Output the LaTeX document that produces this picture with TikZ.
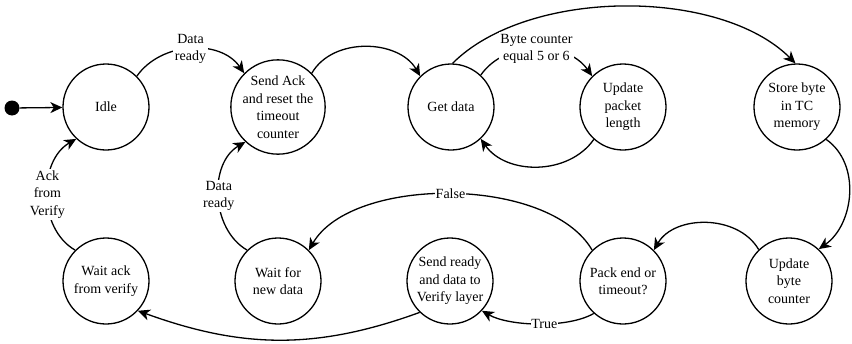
\documentclass[tikz,border=0pt]{standalone}
\usepackage{fontspec}
\setmainfont{Liberation Serif}
\usetikzlibrary{arrows.meta}
\begin{document}
\begin{tikzpicture}[x=1pt,y=1pt,
  txt/.style={font=\fontsize{14}{17.5}\selectfont},
  state/.style={txt,circle,draw,line width=1.3pt,minimum size=86pt,inner sep=0pt,align=center},
  trans/.style={line width=1.3pt,-{Stealth[length=12pt,width=11pt,inset=3.5pt]}},
  lbl/.style={txt,fill=white,inner sep=1.5pt,align=center}]
\useasboundingbox (0,0) rectangle (852,-343);

% states, top row
\node[state] (idle)  at (106,-107) {Idle};
\node[state] (ack)   at (278,-107) {Send Ack\\and reset the\\timeout\\counter};
\node[state] (get)   at (451,-107) {Get data};
\node[state] (upd)   at (623,-107) {Update\\packet\\length};
\node[state] (store) at (797,-107) {Store byte\\in TC\\memory};

% states, bottom row
\node[state] (waitack) at (106,-281) {Wait ack\\from verify};
\node[state] (waitnew) at (278,-281) {Wait for\\new data};
\node[state] (sendrdy) at (450,-281) {Send ready\\and data to\\Verify layer};
\node[state] (pack)    at (623,-281) {Pack end or\\timeout?};
\node[state] (updbyte) at (789,-281) {Update\\byte\\counter};

% initial pseudo-state
\node[circle,fill,inner sep=0pt,minimum size=15pt] (init) at (12,-108) {};

% transitions
\draw[trans] (init) -- (idle);
\draw[trans] (idle.45) to[out=55,in=125] node[lbl,midway] {Data\\ready} (ack.135);
\draw[trans] (ack.45) to[out=60,in=120] (get.135);
\draw[trans] (get.88) to[out=45,in=135,looseness=0.8] (store.92);
\draw[trans] (get.47) to[out=55,in=125] node[lbl,midway] {Byte counter\\equal 5 or 6} (upd.135);
\draw[trans] (upd.228) to[out=235,in=305] (get.313);
\draw[trans] (store.312) to[out=-35,in=35] (updbyte.47);
\draw[trans] (updbyte.134) to[out=120,in=60] (pack.45);
\draw[trans] (pack.135) to[out=120,in=60,looseness=0.78] node[lbl,midway,inner sep=0.5pt] {False} (waitnew.45);
\draw[trans] (pack.228) to[out=210,in=330,looseness=0.7] node[lbl,pos=0.45,inner sep=0.5pt] {True} (sendrdy.317);
\draw[trans] (sendrdy.226) to[out=200,in=340] (waitack.317);
\draw[trans] (waitnew.135) to[out=150,in=210] node[lbl,midway] {Data\\ready} (ack.227);
\draw[trans] (waitack.135) to[out=150,in=210] node[lbl,midway] {Ack\\from\\Verify} (idle.227);
\end{tikzpicture}
\end{document}
